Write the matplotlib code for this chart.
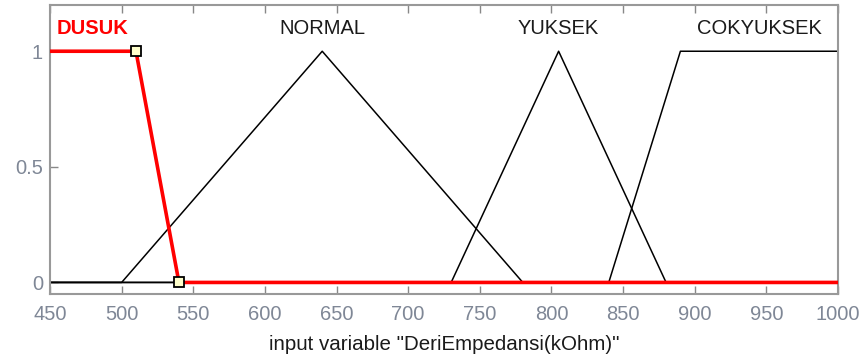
import numpy as np
import matplotlib
matplotlib.use("Agg")
import matplotlib.pyplot as plt

plt.rcParams['font.family'] = ['Liberation Sans', 'DejaVu Sans']

mf_names = ["DUSUK", "NORMAL", "YUKSEK", "COKYUKSEK"]
mf_x = [
    [450, 450, 510, 540],
    [500, 640, 780],
    [730, 805, 880],
    [840, 890, 1000, 1000],
]
mf_y = [
    [1, 1, 1, 0],
    [0, 1, 0],
    [0, 1, 0],
    [0, 1, 1, 1],
]
label_x = [480, 640, 805, 945]
xticks = [450, 500, 550, 600, 650, 700, 750, 800, 850, 900, 950, 1000]
yticks = [0, 0.5, 1]
ytick_labels = ["0", "0.5", "1"]
selected = 0
xlabel = 'input variable "DeriEmpedansi(kOhm)"'

fig = plt.figure(figsize=(8.64, 3.58), dpi=100)
ax = fig.add_axes([50/864, 1 - 294/358, 788/864, 289/358])

xmin, xmax = 450, 1000
for i, (xs, ys) in enumerate(zip(mf_x, mf_y)):
    xs_full = list(xs)
    ys_full = list(ys)
    if xs_full[0] > xmin:
        xs_full = [xmin] + xs_full
        ys_full = [0] + ys_full
    if xs_full[-1] < xmax:
        xs_full = xs_full + [xmax]
        ys_full = ys_full + [0]
    if i == selected:
        continue
    ax.plot(xs_full, ys_full, color='black', lw=1.1, zorder=2)

# selected MF in red on top
xs = list(mf_x[selected]) + [xmax]
ys = list(mf_y[selected]) + [0]
ax.plot(xs, ys, color='#ff0000', lw=2.6, zorder=3, solid_joinstyle='miter')
ax.plot([mf_x[selected][2], mf_x[selected][3]], [mf_y[selected][2], mf_y[selected][3]],
        linestyle='none', marker='s', markersize=7, markerfacecolor='#ffffcc',
        markeredgecolor='black', markeredgewidth=1.3, zorder=4)

fs = 14.5
for i, name in enumerate(mf_names):
    if i == selected:
        ax.text(label_x[i], 1.1, name, color='#ff0000', fontweight='bold',
                fontsize=fs, ha='center', va='center')
    else:
        ax.text(label_x[i], 1.1, name, color='#1a1a1a',
                fontsize=fs, ha='center', va='center')

ax.set_xlim(xmin, xmax)
ax.set_ylim(-0.05, 1.2)
ax.set_xticks(xticks)
ax.set_yticks(yticks)
ax.set_yticklabels(ytick_labels)
ax.tick_params(direction='in', length=6, width=1, color='#888888',
               labelcolor='#7f8796', labelsize=fs, top=True, right=False)
ax.tick_params(axis='x', pad=8)
ax.tick_params(axis='y', pad=5)
for s in ax.spines.values():
    s.set_color('#999999')
    s.set_linewidth(1.5)
ax.set_xlabel(xlabel, fontsize=14.8, color='#1a1a1a', labelpad=8)

fig.savefig("out.png", dpi=100)
